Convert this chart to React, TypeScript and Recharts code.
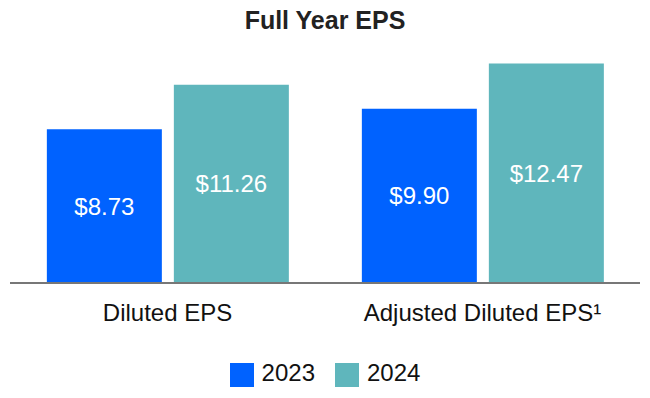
import { Bar, BarChart, LabelList, Legend, XAxis, YAxis } from "recharts";

const categories = ["Diluted EPS", "Adjusted Diluted EPS¹"];
const eps2023 = [8.73, 9.9];
const eps2024 = [11.26, 12.47];

const data = categories.map((name, i) => ({
  name,
  y2023: eps2023[i],
  y2024: eps2024[i],
}));

const font = "'Liberation Sans', Arial, sans-serif";
const money = (v: any) => `$${Number(v).toFixed(2)}`;

const App = () => {
  return (
    <div
      style={{
        position: "absolute",
        left: 0,
        top: 0,
        width: 650,
        height: 398,
        background: "#fff",
        fontFamily: font,
      }}
    >
      <div
        style={{
          position: "absolute",
          top: 6,
          width: 650,
          textAlign: "center",
          fontSize: 25,
          fontWeight: 700,
          color: "#222",
        }}
      >
        Full Year EPS
      </div>
      <BarChart
        width={650}
        height={398}
        data={data}
        margin={{ top: 60, right: 10, left: 10, bottom: 0 }}
        barCategoryGap="11.7%"
        barGap={12}
      >
        <YAxis hide domain={[0, 12.67]} />
        <XAxis
          dataKey="name"
          axisLine={{ stroke: "#777", strokeWidth: 2 }}
          tickLine={false}
          height={60}
          tick={{ fill: "#111", fontSize: 24, fontFamily: font, dy: 13 }}
          interval={0}
        />
        <Legend
          verticalAlign="bottom"
          iconType="square"
          iconSize={24}
          height={55}
          wrapperStyle={{ fontSize: 24, fontFamily: font, bottom: -16, paddingLeft: 10 }}
          formatter={(v: any) => (
            <span style={{ color: "#111", marginLeft: 4, marginRight: 10 }}>{v}</span>
          )}
        />
        <Bar dataKey="y2023" name="2023" fill="#0062FF" isAnimationActive={false}>
          <LabelList
            dataKey="y2023"
            position="center"
            formatter={money}
            fill="#fff"
            fontSize={24}
            fontFamily={font}
          />
        </Bar>
        <Bar dataKey="y2024" name="2024" fill="#5FB6BC" isAnimationActive={false}>
          <LabelList
            dataKey="y2024"
            position="center"
            formatter={money}
            fill="#fff"
            fontSize={24}
            fontFamily={font}
          />
        </Bar>
      </BarChart>
    </div>
  );
};

export default App;
